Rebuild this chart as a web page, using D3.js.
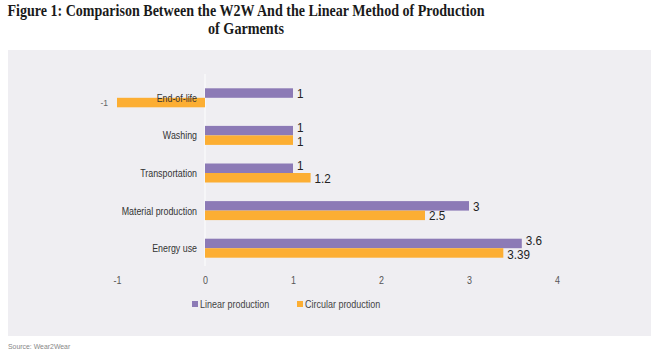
<!DOCTYPE html>
<html>
<head>
<meta charset="utf-8">
<script src="https://cdn.jsdelivr.net/npm/d3@7"></script>
<style>
  body { margin: 0; background: #fff; }
  svg { display: block; }
</style>
</head>
<body>
<div id="chart"></div>
<script>
// data
const categories = ["End-of-life", "Washing", "Transportation", "Material production", "Energy use"];
const linearValues = [1, 1, 1, 3, 3.6];
const circularValues = [-1, 1, 1.2, 2.5, 3.39];
const seriesNames = ["Linear production", "Circular production"];
const seriesColors = ["#8c7ab6", "#fcae33"];
const xTicks = [-1, 0, 1, 2, 3, 4];

const W = 660, H = 353;
const sans = "'Liberation Sans', Arial, sans-serif";

// no narrow font installed, so squeeze the text horizontally
function condense(sel, f) {
    sel.each(function() {
        const w = this.getComputedTextLength();
        d3.select(this).attr("textLength", w * f).attr("lengthAdjust", "spacingAndGlyphs");
    });
}

const svg = d3.select("#chart").append("svg")
    .attr("width", W)
    .attr("height", H);

// title
const title = svg.append("g")
    .attr("font-family", "'Liberation Serif', 'DejaVu Serif', serif")
    .attr("font-weight", "bold")
    .attr("font-size", 16.5)
    .attr("fill", "#1a1a1a")
    .attr("text-anchor", "middle");
title.append("text").attr("x", 246).attr("y", 16)
    .attr("textLength", 477).attr("lengthAdjust", "spacingAndGlyphs")
    .text("Figure 1: Comparison Between the W2W And the Linear Method of Production");
title.append("text").attr("x", 246).attr("y", 33.5)
    .attr("textLength", 76).attr("lengthAdjust", "spacingAndGlyphs")
    .text("of Garments");

// panel background
svg.append("rect")
    .attr("x", 8).attr("y", 50)
    .attr("width", 643).attr("height", 286)
    .attr("fill", "#efeef2");

// scales
const x = d3.scaleLinear().domain([-1, 4]).range([117, 557]);
const y = d3.scaleBand().domain(categories).range([79, 267]);
const barH = 9.5;

// zero line
svg.append("line")
    .attr("x1", x(0)).attr("x2", x(0))
    .attr("y1", 74).attr("y2", 266)
    .attr("stroke", "#f8f8fa").attr("stroke-width", 1.5);

// x axis (labels only)
const xAxis = svg.append("g")
    .attr("transform", "translate(0,280)")
    .call(d3.axisBottom(x).tickValues(xTicks).tickSize(0).tickFormat(d => String(d)));
xAxis.select(".domain").remove();
xAxis.selectAll("text")
    .attr("dy", "0.35em").attr("y", 0)
    .attr("font-family", sans).attr("font-size", 10.5).attr("fill", "#555")
    .call(condense, 0.85);

// bars
const rows = [];
categories.forEach((c, i) => {
    rows.push({ cat: c, s: 0, v: linearValues[i], other: circularValues[i] });
    rows.push({ cat: c, s: 1, v: circularValues[i], other: linearValues[i] });
});
const barY = d => y(d.cat) + y.bandwidth() / 2 - barH + d.s * barH;

svg.append("g").selectAll("rect")
    .data(rows)
    .enter().append("rect")
    .attr("x", d => x(Math.min(0, d.v)))
    .attr("y", barY)
    .attr("width", d => Math.abs(x(d.v) - x(0)))
    .attr("height", barH)
    .attr("fill", d => seriesColors[d.s]);

// category labels (drawn over the bars, as in the original)
svg.append("g").selectAll("text")
    .data(categories)
    .enter().append("text")
    .attr("x", 197)
    .attr("y", d => y(d) + y.bandwidth() / 2)
    .attr("dy", "0.35em")
    .attr("text-anchor", "end")
    .attr("font-family", sans).attr("font-size", 11.5).attr("fill", "#333")
    .text(d => d)
    .call(condense, 0.77);

// value labels; when the pair sits close together, nudge them apart
const close = d => d.v > 0 && d.other > 0 && Math.abs(x(d.v) - x(d.other)) < 22;
const nudge = d => !close(d) ? 0 : (d.s === 0 ? -3 : 1);
svg.append("g").selectAll("text")
    .data(rows)
    .enter().append("text")
    .attr("x", d => d.v < 0 ? x(d.v) - 9 : x(d.v) + 4)
    .attr("y", d => barY(d) + barH / 2 + nudge(d))
    .attr("dy", "0.36em")
    .attr("text-anchor", d => d.v < 0 ? "end" : "start")
    .attr("font-family", sans)
    .attr("font-size", d => d.v < 0 ? 9.5 : 13)
    .attr("fill", d => d.v < 0 ? "#666" : "#222")
    .text(d => d.v)
    .call(condense, 0.9);

// legend
const legendX = [192, 297];
const legend = svg.append("g").selectAll("g")
    .data(seriesNames)
    .enter().append("g")
    .attr("transform", (d, i) => "translate(" + legendX[i] + ",304)");
legend.append("rect")
    .attr("x", 0).attr("y", -3)
    .attr("width", 6).attr("height", 6)
    .attr("fill", (d, i) => seriesColors[i]);
legend.append("text")
    .attr("x", 8).attr("dy", "0.35em")
    .attr("font-family", sans).attr("font-size", 11.5).attr("fill", "#444")
    .text(d => d)
    .call(condense, 0.78);

// source
svg.append("text")
    .attr("x", 8).attr("y", 349)
    .attr("font-family", sans)
    .attr("font-size", 7.5).attr("fill", "#888")
    .text("Source: Wear2Wear")
    .call(condense, 0.92);
</script>
</body>
</html>
